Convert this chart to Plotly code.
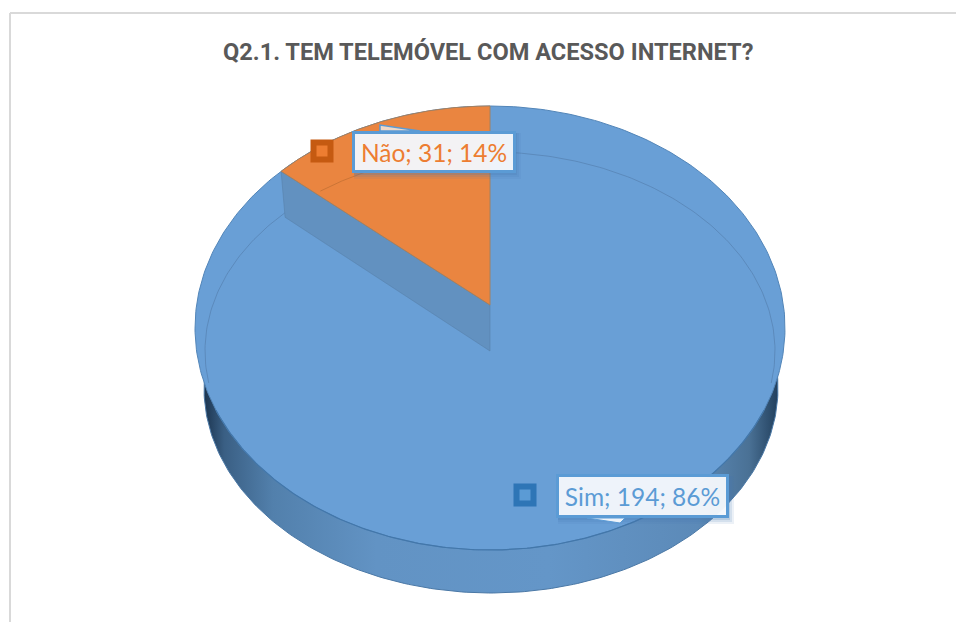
import numpy as np
import plotly.graph_objects as go

# ---- data ----
categories = ["Sim", "Não"]
values = [194, 31]
percent_labels = ["86%", "14%"]
title_text = "Q2.1. TEM TELEMÓVEL COM ACESSO INTERNET?"

# ---- styles ----
FACE = "#699fd6"
ORANGE = "#ea8540"
INNER_WALL = "#6291c0"
BLUE_TXT = "#5b9bd5"
ORANGE_TXT = "#ed7d31"

# ---- projected pie geometry (page pixel space) ----
CX = 490
RX_U, RY_U, CY_U = 295, 222, 328     # outer face ellipse
RX_E, RY_E, CY_E = 285, 199, 351     # thin inner ellipse
RX_W, RY_W, CY_W, CX_W = 287, 205, 388, 491  # base ellipse
APEX_TOP = 305
CUT_HEIGHT = 46
PERSPECTIVE = 0.909


def arc(cx, cy, rx, ry, a0, a1, n=200):
    """Angles in radians clockwise from 12 o'clock."""
    t = np.linspace(a0, a1, n)
    return cx + rx * np.sin(t), cy - ry * np.cos(t)


share = values[1] / sum(values)
wedge = 2 * np.pi * share * PERSPECTIVE

fig = go.Figure()


def poly(xs, ys, fill=None, line=None, width=0, gradient=None):
    kw = dict(x=xs, y=ys, mode="lines", hoverinfo="skip", showlegend=False,
              line=dict(color=line or "rgba(0,0,0,0)", width=width))
    if gradient:
        kw.update(fill="toself", fillgradient=gradient)
    elif fill:
        kw.update(fill="toself", fillcolor=fill)
    fig.add_trace(go.Scatter(**kw))


# base of the pie, the side wall is what stays visible of it
wx, wy = arc(CX_W, CY_W, RX_W, RY_W, 0, 2 * np.pi, n=400)
poly(wx, wy, line="#4a78a6", width=1,
     gradient=dict(type="horizontal", colorscale=[
         [0.0, "#1c3550"], [0.035, "#3a5f84"], [0.12, "#5280ac"], [0.3, "#6293c4"],
         [0.6, "#6496c8"], [0.86, "#5c8ab8"], [0.95, "#4a7195"], [1.0, "#22405e"]]))

# face
ux, uy = arc(CX, CY_U, RX_U, RY_U, 0, 2 * np.pi, n=400)
poly(ux, uy, fill=FACE, line="#5285b8", width=1)

# thin inner ellipse on the large slice
ex, ey = arc(CX, CY_E, RX_E, RY_E, -wedge, 2 * np.pi - wedge, n=400)
keep = (ey < 385) & (ex >= CX) | (ey < 385) & (ey > CY_E - RY_E * np.cos(wedge))
keep = keep | ((ex < CX) & (ey < 385) & (ey > 200))
fig.add_trace(go.Scatter(x=np.where(keep, ex, None), y=np.where(keep, ey, None), mode="lines",
                         hoverinfo="skip", showlegend=False,
                         line=dict(color="rgba(80,120,165,0.55)", width=1)))

# front edge of the face
fx, fy = arc(CX, CY_U, RX_U, RY_U, 1.95, 2 * np.pi - 1.95)
poly(fx, fy, line="#4377aa", width=1.2)

# cut wall exposed behind the small slice
ox, oy = arc(CX, CY_U, RX_U, RY_U, -wedge, 0)
poly([ox[0], CX, CX, ox[0] + 4, ox[0]],
     [oy[0], APEX_TOP, APEX_TOP + CUT_HEIGHT, oy[0] + CUT_HEIGHT, oy[0]],
     fill=INNER_WALL, line="rgba(85,125,165,0.5)", width=1)

# small slice
poly(np.r_[CX, ox, CX], np.r_[APEX_TOP, oy, APEX_TOP], fill=ORANGE, line="#a5805f", width=1)
ax_, ay_ = arc(CX, CY_E, RX_E, RY_E, -0.81 * wedge, 0)
fig.add_trace(go.Scatter(x=ax_, y=ay_, mode="lines", hoverinfo="skip", showlegend=False,
                         line=dict(color="rgba(190,110,50,0.7)", width=1)))

# legend keys of the data labels
key_x = [525, 322]
key_y = [495, 151]
fig.add_trace(go.Scatter(x=key_x, y=key_y, mode="markers", hoverinfo="skip", showlegend=False,
                         marker=dict(symbol="square", size=17,
                                     color=[BLUE_TXT, ORANGE_TXT],
                                     line=dict(color=["#2e75b6", "#c55a11"], width=6))))

box_cx = [642, 433.5]
box_cy = [496, 152]
box_w = [170, 161]
box_h = [42, 40]
txt_col = [BLUE_TXT, ORANGE_TXT]
annos = []
shapes = [
    dict(type="line", xref="paper", yref="paper", x0=10 / 956, x1=1, y0=1 - 13 / 622, y1=1 - 13 / 622,
         line=dict(color="#d9d9d9", width=2), layer="below"),
    dict(type="line", xref="paper", yref="paper", x0=10 / 956, x1=10 / 956, y0=0, y1=1 - 13 / 622,
         line=dict(color="#d9d9d9", width=2), layer="below"),
]
for i, c in enumerate(categories):
    for off, al in ((7, 0.10), (5, 0.14), (3, 0.2)):
        shapes.append(dict(type="rect", x0=box_cx[i] - box_w[i] / 2 + 1, x1=box_cx[i] + box_w[i] / 2 + off,
                           y0=box_cy[i] - box_h[i] / 2 + 1, y1=box_cy[i] + box_h[i] / 2 + off,
                           line=dict(width=0), fillcolor=f"rgba(70,120,175,{al})", layer="above"))
    annos.append(dict(x=box_cx[i], y=box_cy[i], xref="x", yref="y", showarrow=False,
                      text=f"{c}; {values[i]}; {percent_labels[i]}",
                      font=dict(family="Lato", size=24.5, color=txt_col[i]),
                      width=box_w[i] - 3, height=box_h[i] - 4, align="center", valign="middle",
                      bgcolor="rgba(248,250,253,0.94)", bordercolor=BLUE_TXT, borderwidth=3, borderpad=0))

# call-out pointers
shapes.append(dict(type="path", path="M 380 131 L 380 125 L 420 131 Z", fillcolor="rgba(240,225,215,0.9)",
                   line=dict(color=BLUE_TXT, width=1.5), layer="above"))
shapes.append(dict(type="path", path="M 587 518 L 620 523 L 625 518 Z", fillcolor="#eef3fa",
                   line=dict(color=BLUE_TXT, width=1), layer="above"))

annos.append(dict(x=488, y=52, xref="x", yref="y", showarrow=False, text=f"<b>{title_text}</b>",
                  font=dict(family="Roboto", size=23.6, color="#595959")))

fig.update_layout(
    width=956, height=622, margin=dict(l=0, r=0, t=0, b=0), autosize=False,
    paper_bgcolor="white", plot_bgcolor="white", showlegend=False,
    xaxis=dict(range=[0, 956], visible=False, fixedrange=True),
    yaxis=dict(range=[622, 0], visible=False, fixedrange=True),
    annotations=annos, shapes=shapes,
)
fig.write_html("out.html", config=dict(displayModeBar=False),
               post_script="document.body.style.margin='0';")
